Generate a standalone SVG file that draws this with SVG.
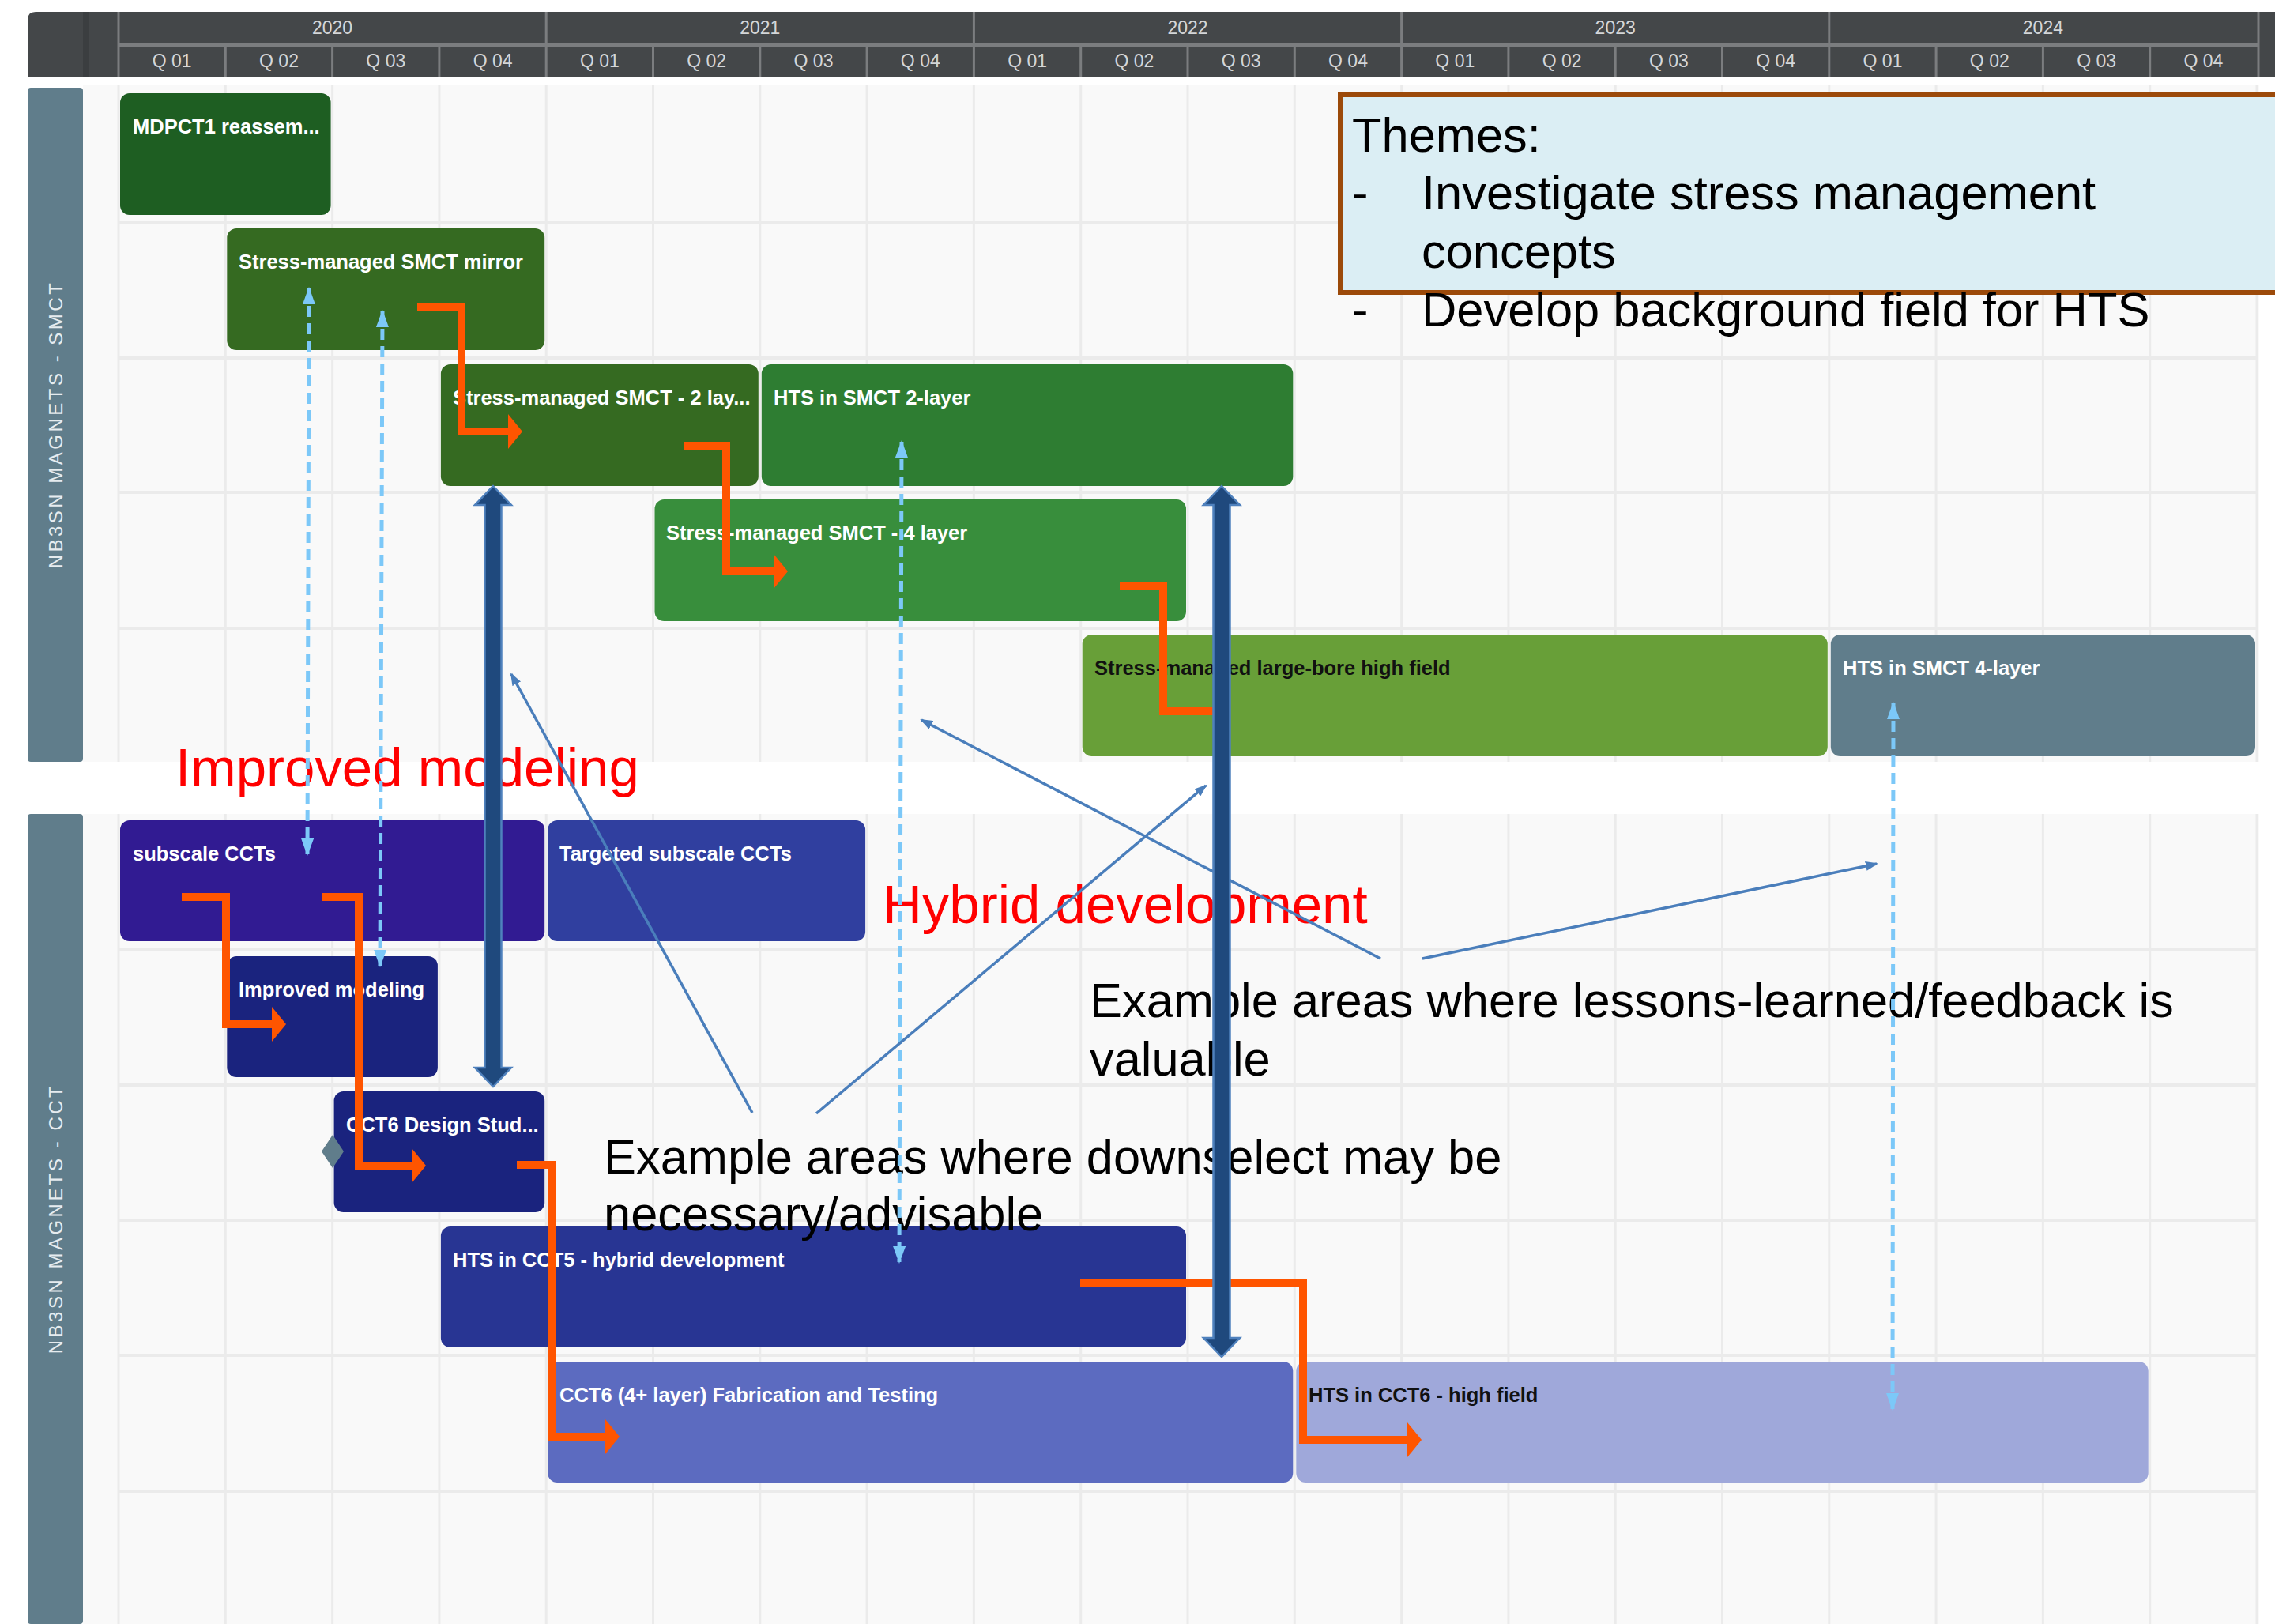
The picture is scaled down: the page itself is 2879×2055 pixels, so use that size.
<svg xmlns="http://www.w3.org/2000/svg" width="2879" height="2055" viewBox="0 0 2879 2055">
<defs>
<style>
.hdr{font-family:"Liberation Sans",Arial,sans-serif;font-size:23px;fill:#d4d6d8;text-anchor:middle}
.vl{stroke:#ebebeb;stroke-width:3}
.hl{stroke:#ebebeb;stroke-width:4}
.hv{stroke:#7b7d7f;stroke-width:3}
.lane{fill:#607d8b}
.lanet{font-family:"Liberation Sans",Arial,sans-serif;font-size:24px;fill:#e6ecef;letter-spacing:3.5px;text-anchor:middle}
.bt{font-family:"Liberation Sans",Arial,sans-serif;font-size:25.5px;font-weight:bold;fill:#ffffff}
.bk{fill:#111111}
.big{font-family:"Liberation Sans",Arial,sans-serif;font-size:61.4px;fill:#000000}
.red{font-family:"Liberation Sans",Arial,sans-serif;font-size:69px;fill:#ff0000}
.dash{stroke:#7cc8f8;stroke-width:5;stroke-dasharray:14 8;fill:none;marker-start:url(#dh);marker-end:url(#dh)}
.org{stroke:#ff5500;stroke-width:10;fill:none;stroke-linejoin:miter}
.thin{stroke:#4a7ebb;stroke-width:3.5;fill:none;marker-end:url(#th)}
.thick{fill:#1f497d;stroke:#4f81bd;stroke-width:2.5}
</style>
<marker id="dh" markerUnits="userSpaceOnUse" markerWidth="22" markerHeight="16" refX="20" refY="8" orient="auto-start-reverse" viewBox="0 0 22 16">
<path d="M0,0 L22,8 L0,16 z" fill="#7cc8f8"/>
</marker>
<marker id="oh" markerUnits="userSpaceOnUse" markerWidth="18" markerHeight="44" refX="1" refY="22" orient="auto" viewBox="0 0 18 44">
<path d="M0,0 L18,22 L0,44 z" fill="#ff5500"/>
</marker>
<marker id="th" markerUnits="userSpaceOnUse" markerWidth="16" markerHeight="12" refX="14" refY="6" orient="auto" viewBox="0 0 16 12">
<path d="M0,0 L16,6 L0,12 z" fill="#4a7ebb"/>
</marker>
</defs>
<rect width="2879" height="2055" fill="#ffffff"/>

<g id="grid">
<rect x="105" y="108" width="2754" height="856" fill="#f9f9f9"/>
<rect x="105" y="1030" width="2754" height="1025" fill="#f9f9f9"/>
<g>
<line class="vl" x1="150" y1="108" x2="150" y2="964"/><line class="vl" x1="285.3" y1="108" x2="285.3" y2="964"/><line class="vl" x1="420.6" y1="108" x2="420.6" y2="964"/><line class="vl" x1="555.9" y1="108" x2="555.9" y2="964"/><line class="vl" x1="691.2" y1="108" x2="691.2" y2="964"/><line class="vl" x1="826.5" y1="108" x2="826.5" y2="964"/><line class="vl" x1="961.8" y1="108" x2="961.8" y2="964"/><line class="vl" x1="1097.1" y1="108" x2="1097.1" y2="964"/><line class="vl" x1="1232.4" y1="108" x2="1232.4" y2="964"/><line class="vl" x1="1367.7" y1="108" x2="1367.7" y2="964"/><line class="vl" x1="1503" y1="108" x2="1503" y2="964"/><line class="vl" x1="1638.3" y1="108" x2="1638.3" y2="964"/><line class="vl" x1="1773.6" y1="108" x2="1773.6" y2="964"/><line class="vl" x1="1908.9" y1="108" x2="1908.9" y2="964"/><line class="vl" x1="2044.2" y1="108" x2="2044.2" y2="964"/><line class="vl" x1="2179.5" y1="108" x2="2179.5" y2="964"/><line class="vl" x1="2314.8" y1="108" x2="2314.8" y2="964"/><line class="vl" x1="2450.1" y1="108" x2="2450.1" y2="964"/><line class="vl" x1="2585.4" y1="108" x2="2585.4" y2="964"/><line class="vl" x1="2720.7" y1="108" x2="2720.7" y2="964"/><line class="vl" x1="2856" y1="108" x2="2856" y2="964"/>
<line class="vl" x1="150" y1="1030" x2="150" y2="2055"/><line class="vl" x1="285.3" y1="1030" x2="285.3" y2="2055"/><line class="vl" x1="420.6" y1="1030" x2="420.6" y2="2055"/><line class="vl" x1="555.9" y1="1030" x2="555.9" y2="2055"/><line class="vl" x1="691.2" y1="1030" x2="691.2" y2="2055"/><line class="vl" x1="826.5" y1="1030" x2="826.5" y2="2055"/><line class="vl" x1="961.8" y1="1030" x2="961.8" y2="2055"/><line class="vl" x1="1097.1" y1="1030" x2="1097.1" y2="2055"/><line class="vl" x1="1232.4" y1="1030" x2="1232.4" y2="2055"/><line class="vl" x1="1367.7" y1="1030" x2="1367.7" y2="2055"/><line class="vl" x1="1503" y1="1030" x2="1503" y2="2055"/><line class="vl" x1="1638.3" y1="1030" x2="1638.3" y2="2055"/><line class="vl" x1="1773.6" y1="1030" x2="1773.6" y2="2055"/><line class="vl" x1="1908.9" y1="1030" x2="1908.9" y2="2055"/><line class="vl" x1="2044.2" y1="1030" x2="2044.2" y2="2055"/><line class="vl" x1="2179.5" y1="1030" x2="2179.5" y2="2055"/><line class="vl" x1="2314.8" y1="1030" x2="2314.8" y2="2055"/><line class="vl" x1="2450.1" y1="1030" x2="2450.1" y2="2055"/><line class="vl" x1="2585.4" y1="1030" x2="2585.4" y2="2055"/><line class="vl" x1="2720.7" y1="1030" x2="2720.7" y2="2055"/><line class="vl" x1="2856" y1="1030" x2="2856" y2="2055"/>
</g>
<g>
<line class="hl" x1="150" y1="282" x2="2858" y2="282"/><line class="hl" x1="150" y1="453" x2="2858" y2="453"/><line class="hl" x1="150" y1="623" x2="2858" y2="623"/><line class="hl" x1="150" y1="795" x2="2858" y2="795"/>
<line class="hl" x1="150" y1="1202" x2="2858" y2="1202"/><line class="hl" x1="150" y1="1373" x2="2858" y2="1373"/><line class="hl" x1="150" y1="1544" x2="2858" y2="1544"/><line class="hl" x1="150" y1="1715" x2="2858" y2="1715"/><line class="hl" x1="150" y1="1887" x2="2858" y2="1887"/>
</g>
</g>

<g id="header">
<path d="M45,15 H2879 V97 H35 V25 Q35,15 45,15 z" fill="#444749"/>
<rect x="105" y="15" width="8" height="82" fill="#3b3e40"/>
<line class="hv" x1="150" y1="15" x2="150" y2="97"/>
<line x1="150" y1="56.5" x2="2858" y2="56.5" stroke="#7b7d7f" stroke-width="5"/>
<line class="hv" x1="691.2" y1="15" x2="691.2" y2="97"/><line class="hv" x1="1232.4" y1="15" x2="1232.4" y2="97"/><line class="hv" x1="1773.6" y1="15" x2="1773.6" y2="97"/><line class="hv" x1="2314.8" y1="15" x2="2314.8" y2="97"/><line class="hv" x1="2858" y1="15" x2="2858" y2="97"/>
<line class="hv" x1="285.3" y1="58" x2="285.3" y2="97"/><line class="hv" x1="420.6" y1="58" x2="420.6" y2="97"/><line class="hv" x1="555.9" y1="58" x2="555.9" y2="97"/><line class="hv" x1="826.5" y1="58" x2="826.5" y2="97"/><line class="hv" x1="961.8" y1="58" x2="961.8" y2="97"/><line class="hv" x1="1097.1" y1="58" x2="1097.1" y2="97"/><line class="hv" x1="1367.7" y1="58" x2="1367.7" y2="97"/><line class="hv" x1="1503" y1="58" x2="1503" y2="97"/><line class="hv" x1="1638.3" y1="58" x2="1638.3" y2="97"/><line class="hv" x1="1908.9" y1="58" x2="1908.9" y2="97"/><line class="hv" x1="2044.2" y1="58" x2="2044.2" y2="97"/><line class="hv" x1="2179.5" y1="58" x2="2179.5" y2="97"/><line class="hv" x1="2450.1" y1="58" x2="2450.1" y2="97"/><line class="hv" x1="2585.4" y1="58" x2="2585.4" y2="97"/><line class="hv" x1="2720.7" y1="58" x2="2720.7" y2="97"/>
<text class="hdr" x="420.6" y="43">2020</text><text class="hdr" x="961.8" y="43">2021</text><text class="hdr" x="1503" y="43">2022</text><text class="hdr" x="2044.2" y="43">2023</text><text class="hdr" x="2585.4" y="43">2024</text>
<text class="hdr" x="217.6" y="85">Q 01</text><text class="hdr" x="353" y="85">Q 02</text><text class="hdr" x="488.3" y="85">Q 03</text><text class="hdr" x="623.6" y="85">Q 04</text>
<text class="hdr" x="758.9" y="85">Q 01</text><text class="hdr" x="894.2" y="85">Q 02</text><text class="hdr" x="1029.5" y="85">Q 03</text><text class="hdr" x="1164.8" y="85">Q 04</text>
<text class="hdr" x="1300.1" y="85">Q 01</text><text class="hdr" x="1435.4" y="85">Q 02</text><text class="hdr" x="1570.7" y="85">Q 03</text><text class="hdr" x="1706" y="85">Q 04</text>
<text class="hdr" x="1841.3" y="85">Q 01</text><text class="hdr" x="1976.6" y="85">Q 02</text><text class="hdr" x="2111.9" y="85">Q 03</text><text class="hdr" x="2247.2" y="85">Q 04</text>
<text class="hdr" x="2382.5" y="85">Q 01</text><text class="hdr" x="2517.8" y="85">Q 02</text><text class="hdr" x="2653.1" y="85">Q 03</text><text class="hdr" x="2788.4" y="85">Q 04</text>
</g>

<g id="lane-smct">
<rect class="lane" x="35" y="111" width="70" height="853" rx="4"/>
<text class="lanet" transform="translate(79,537) rotate(-90)">NB3SN MAGNETS - SMCT</text>
</g>
<g id="lane-cct">
<rect class="lane" x="35" y="1030" width="70" height="1025" rx="4"/>
<text class="lanet" transform="translate(79,1542) rotate(-90)">NB3SN MAGNETS - CCT</text>
</g>

<g id="n-mdpct1"><rect x="152" y="118" width="266.6" height="154" rx="12" fill="#1e5e22"/><text class="bt" x="168" y="169">MDPCT1 reassem...</text></g>
<g id="n-mirror"><rect x="287.3" y="289" width="401.9" height="154" rx="12" fill="#356a21"/><text class="bt" x="302" y="340">Stress-managed SMCT mirror</text></g>
<g id="n-smct2"><rect x="557.9" y="461" width="401.9" height="154" rx="12" fill="#356a21"/><text class="bt" x="573" y="512">Stress-managed SMCT - 2 lay...</text></g>
<g id="n-hts2"><rect x="963.8" y="461" width="672.5" height="154" rx="12" fill="#2e7d32"/><text class="bt" x="979" y="512">HTS in SMCT 2-layer</text></g>
<g id="n-smct4"><rect x="828.5" y="632" width="672.5" height="154" rx="12" fill="#388e3c"/><text class="bt" x="843" y="683">Stress-managed SMCT - 4 layer</text></g>
<g id="n-largebore"><rect x="1369.7" y="803" width="943.1" height="154" rx="12" fill="#689f38"/><text class="bt bk" x="1385" y="854">Stress-managed large-bore high field</text></g>
<g id="n-hts4"><rect x="2316.8" y="803" width="537.2" height="154" rx="12" fill="#607d8b"/><text class="bt" x="2332" y="854">HTS in SMCT 4-layer</text></g>

<g id="n-subscale"><rect x="152" y="1038" width="537.2" height="153" rx="12" fill="#311b92"/><text class="bt" x="168" y="1089">subscale CCTs</text></g>
<g id="n-targeted"><rect x="693.2" y="1038" width="401.9" height="153" rx="12" fill="#303f9f"/><text class="bt" x="708" y="1089">Targeted subscale CCTs</text></g>
<g id="n-improved"><rect x="287.3" y="1210" width="266.6" height="153" rx="12" fill="#1a237e"/><text class="bt" x="302" y="1261">Improved modeling</text></g>
<g id="n-cct6design"><rect x="422.6" y="1381" width="266.6" height="153" rx="12" fill="#1a237e"/><text class="bt" x="438" y="1432">CCT6 Design Stud...</text><polygon points="421,1436 435,1457 421,1478 407,1457" fill="#607d8b"/></g>
<g id="n-htscct5"><rect x="557.9" y="1552" width="943.1" height="153" rx="12" fill="#283593"/><text class="bt" x="573" y="1603">HTS in CCT5 - hybrid development</text></g>
<g id="n-cct6fab"><rect x="693.2" y="1723" width="943.1" height="153" rx="12" fill="#5c6bc0"/><text class="bt" x="708" y="1774">CCT6 (4+ layer) Fabrication and Testing</text></g>
<g id="n-htscct6"><rect x="1640.3" y="1723" width="1078.4" height="153" rx="12" fill="#9fa8da"/><text class="bt bk" x="1656" y="1774">HTS in CCT6 - high field</text></g>

<g id="themes">
<rect x="1696" y="120" width="1200" height="250" fill="#dbeef4" stroke="#9c4a0a" stroke-width="6"/>
<text class="big" x="1711" y="192">Themes:</text>
<text class="big" x="1711" y="265">-</text><text class="big" x="1799" y="265">Investigate stress management</text>
<text class="big" x="1799" y="339">concepts</text>
<text class="big" x="1711" y="413">-</text><text class="big" x="1799" y="413">Develop background field for HTS</text>
</g>

<g id="annotations">
<text class="red" x="222" y="995">Improved modeling</text>
<text class="red" x="1117" y="1168">Hybrid development</text>
<text class="big" x="1379" y="1287">Example areas where lessons-learned/feedback is</text>
<text class="big" x="1379" y="1361">valuable</text>
<text class="big" x="764" y="1485">Example areas where downselect may be</text>
<text class="big" x="764" y="1557">necessary/advisable</text>
</g>

<g id="connectors">
<line class="dash" x1="391" y1="365" x2="389" y2="1081"/>
<line class="dash" x1="484" y1="394" x2="481" y2="1222"/>
<line class="dash" x1="1141" y1="559" x2="1138" y2="1597"/>
<line class="dash" x1="2396" y1="890" x2="2395" y2="1783"/>

<path class="org" d="M528,388 H584 V546 H644" marker-end="url(#oh)"/>
<path class="org" d="M865,564 H919 V723 H980" marker-end="url(#oh)"/>
<path class="org" d="M1417,741 H1472 V900 H1538"/>
<path class="org" d="M230,1135 H286 V1296 H345" marker-end="url(#oh)"/>
<path class="org" d="M407,1135 H454 V1475 H522" marker-end="url(#oh)"/>
<path class="org" d="M654,1474 H699 V1818 H767" marker-end="url(#oh)"/>
<path class="org" d="M1367,1624 H1649 V1822 H1782" marker-end="url(#oh)"/>

<line class="thin" x1="952" y1="1408" x2="647" y2="853"/>
<line class="thin" x1="1033" y1="1409" x2="1526" y2="994"/>
<line class="thin" x1="1747" y1="1213" x2="1166" y2="911"/>
<line class="thin" x1="1800" y1="1213" x2="2375" y2="1093"/>

<polygon class="thick" points="624,615 647,639 634.5,639 634.5,1351 647,1351 624,1375 601,1351 613.5,1351 613.5,639 601,639"/>
<polygon class="thick" points="1546,615 1569,639 1556.5,639 1556.5,1693 1569,1693 1546,1717 1523,1693 1535.5,1693 1535.5,639 1523,639"/>
</g>
</svg>
